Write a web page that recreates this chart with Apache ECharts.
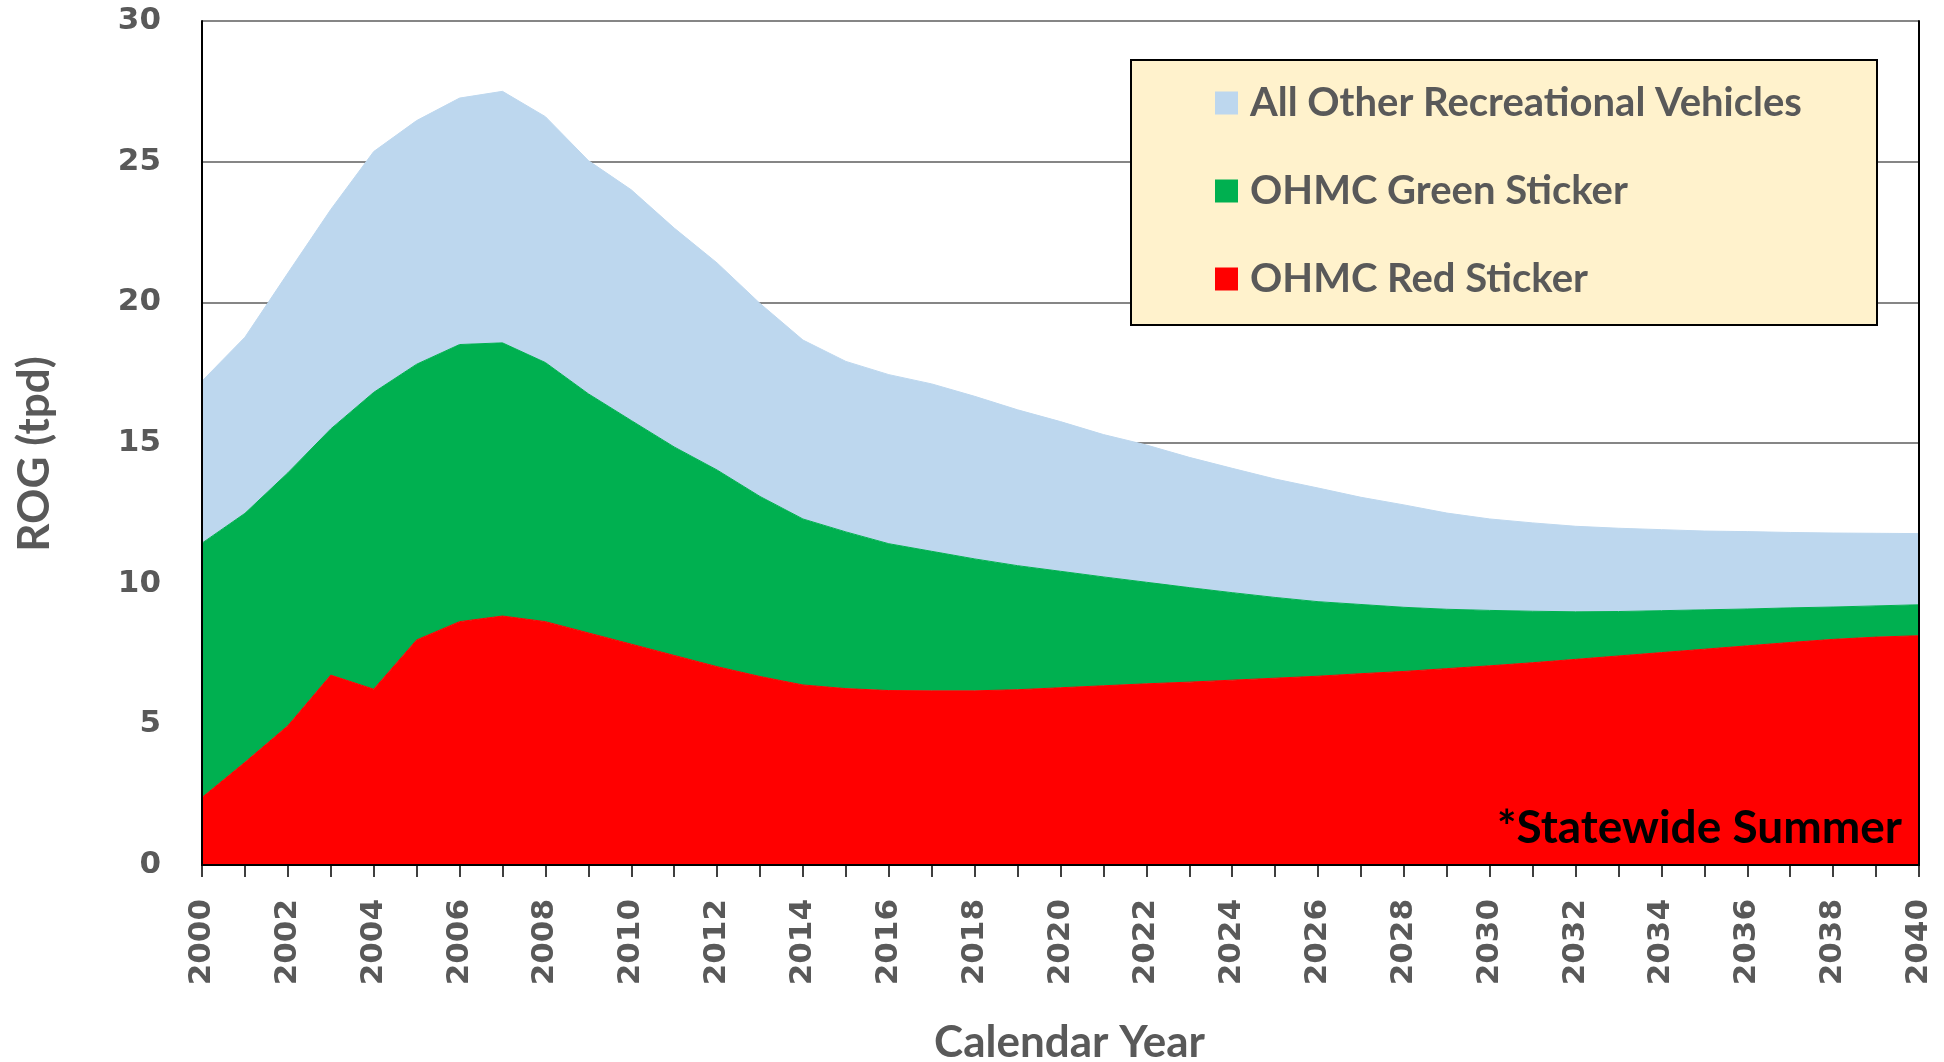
<!DOCTYPE html>
<html>
<head>
<meta charset="utf-8">
<title>ROG (tpd)</title>
<script src="https://cdn.jsdelivr.net/npm/echarts@6/dist/echarts.min.js"></script>
<style>
  html, body { margin: 0; padding: 0; background: #fff; }
  #chart { width: 1944px; height: 1062px; }
</style>
</head>
<body>
<div id="chart"></div>
<script>
  // calendar years on the x axis
  var years = [];
  for (var y = 2000; y <= 2040; y++) years.push(String(y));

  // ROG tpd, read off the stacked areas (each series is its own layer, not cumulative)
  var redSticker = [
    2.40, 3.65, 4.95, 6.75, 6.25, 8.00, 8.65, 8.85, 8.65, 8.25,
    7.85, 7.45, 7.05, 6.70, 6.40, 6.27, 6.20, 6.19, 6.19, 6.23,
    6.30, 6.37, 6.44, 6.50, 6.57, 6.64, 6.71, 6.80, 6.88, 6.98,
    7.08, 7.19, 7.31, 7.43, 7.55, 7.67, 7.79, 7.91, 8.02, 8.10,
    8.15
  ];
  var greenSticker = [
    9.04, 8.85, 8.99, 8.75, 10.55, 9.80, 9.85, 9.71, 9.21, 8.50,
    7.95, 7.41, 6.99, 6.40, 5.90, 5.57, 5.22, 4.96, 4.69, 4.41,
    4.14, 3.87, 3.61, 3.36, 3.11, 2.87, 2.65, 2.46, 2.28, 2.11,
    1.97, 1.83, 1.69, 1.58, 1.49, 1.40, 1.31, 1.23, 1.15, 1.11,
    1.10
  ];
  var otherRec = [
    5.76, 6.26, 7.10, 7.80, 8.56, 8.66, 8.76, 8.94, 8.74, 8.29,
    8.20, 7.78, 7.36, 6.86, 6.36, 6.06, 6.01, 5.95, 5.78, 5.54,
    5.32, 5.06, 4.88, 4.63, 4.42, 4.21, 4.04, 3.81, 3.64, 3.42,
    3.25, 3.14, 3.04, 2.96, 2.88, 2.80, 2.75, 2.68, 2.63, 2.58,
    2.53
  ];

  var seriesNames = ['OHMC Red Sticker', 'OHMC Green Sticker', 'All Other Recreational Vehicles'];
  var seriesColors = ['#FF0000', '#00B050', '#BDD7EE'];
  var seriesData = [redSticker, greenSticker, otherRec];

  var grey = '#595959';
  var tickFont = 'DejaVu Sans';
  var titleFont = 'Lato';

  var chart = echarts.init(document.getElementById('chart'));

  var series = seriesNames.map(function (name, i) {
    return {
      name: name,
      type: 'line',
      stack: 'rog',
      data: seriesData[i],
      showSymbol: false,
      symbol: 'none',
      lineStyle: { width: 1, color: seriesColors[i] },
      itemStyle: { color: seriesColors[i] },
      areaStyle: { color: seriesColors[i], opacity: 1 },
      emphasis: { disabled: true }
    };
  });

  chart.setOption({
    animation: false,
    grid: { left: 202, right: 25, top: 21, bottom: 197, containLabel: false, outerBoundsMode: 'none' },
    legend: {
      data: ['All Other Recreational Vehicles', 'OHMC Green Sticker', 'OHMC Red Sticker'],
      orient: 'vertical',
      left: 1215,
      top: 80,
      padding: 0,
      itemGap: 42,
      itemWidth: 23,
      itemHeight: 23,
      icon: 'rect',
      selectedMode: false,
      z: 30,
      textStyle: {
        fontFamily: titleFont,
        fontWeight: 'bold',
        fontSize: 40,
        color: grey,
        lineHeight: 46,
        padding: [0, 0, 0, 7]
      }
    },
    xAxis: [{
      type: 'category',
      data: years,
      boundaryGap: false,
      position: 'bottom',
      z: 10,
      axisLine: { show: true, lineStyle: { color: '#000', width: 2 } },
      axisTick: { show: true, interval: 0, length: 12, lineStyle: { color: '#000', width: 1.5 } },
      axisLabel: {
        interval: 1,
        rotate: 90,
        margin: 34,
        fontFamily: tickFont,
        fontWeight: 'bold',
        fontSize: 31,
        color: grey
      },
      splitLine: { show: false },
      name: 'Calendar Year',
      nameLocation: 'middle',
      nameGap: 156,
      nameMoveOverlap: false,
      nameTextStyle: { fontFamily: titleFont, fontWeight: 'bold', fontSize: 44, color: grey, padding: [0, 0, 0, 18] }
    }, {
      type: 'category',
      data: years,
      boundaryGap: false,
      position: 'top',
      z: 10,
      axisLine: { show: true, lineStyle: { color: '#000', width: 2 } },
      axisTick: { show: false },
      axisLabel: { show: false },
      splitLine: { show: false }
    }],
    yAxis: [{
      type: 'value',
      min: 0,
      max: 30,
      interval: 5,
      axisLine: { show: false },
      axisTick: { show: false },
      splitLine: { show: true, lineStyle: { color: '#868686', width: 2 } },
      axisLabel: {
        margin: 41,
        fontFamily: tickFont,
        fontWeight: 'bold',
        fontSize: 31,
        color: grey
      },
      name: 'ROG (tpd)',
      nameLocation: 'middle',
      nameGap: 145,
      nameMoveOverlap: false,
      nameTextStyle: { fontFamily: titleFont, fontWeight: 'bold', fontSize: 44, color: grey, padding: [0, 22, 0, 0] }
    }, {
      type: 'value',
      min: 0,
      max: 30,
      position: 'left',
      z: 10,
      axisLine: { show: true, lineStyle: { color: '#000', width: 2 } },
      axisTick: { show: false },
      axisLabel: { show: false },
      splitLine: { show: false }
    }, {
      type: 'value',
      min: 0,
      max: 30,
      position: 'right',
      z: 10,
      axisLine: { show: true, lineStyle: { color: '#000', width: 2 } },
      axisTick: { show: false },
      axisLabel: { show: false },
      splitLine: { show: false }
    }],
    graphic: [{
      type: 'rect',
      z: 20,
      shape: { x: 1131, y: 60, width: 746, height: 265 },
      style: { fill: '#FFF2CC', stroke: '#000', lineWidth: 2 }
    }, {
      type: 'text',
      z: 20,
      x: 1902,
      y: 851,
      style: {
        text: '*Statewide Summer',
        textAlign: 'right',
        textVerticalAlign: 'bottom',
        fontFamily: titleFont,
        fontWeight: 'bold',
        fontSize: 46,
        fill: '#000'
      }
    }],
    series: series
  });
</script>
</body>
</html>
